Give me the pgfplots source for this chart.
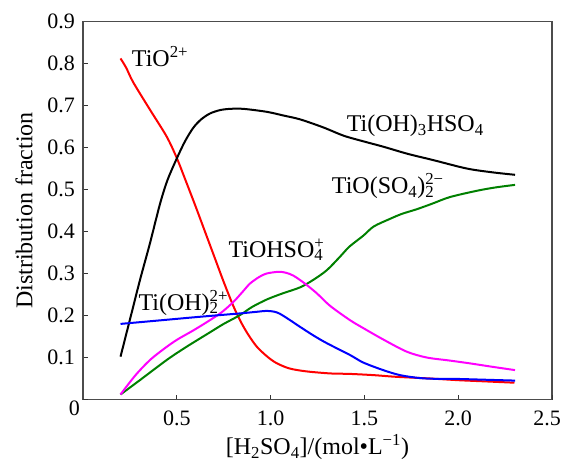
\documentclass[border=0pt]{standalone}
\usepackage{fontspec}
\setmainfont{Liberation Serif}
\usepackage{pgfplots}
\pgfplotsset{compat=1.18}
\newcommand{\subsup}[2]{\setbox0=\hbox{\textsubscript{#1}}\setbox2=\hbox{\textsuperscript{#2}}\ifdim\wd0>\wd2 \rlap{\box2}\box0\else\rlap{\box0}\box2\fi}
\definecolor{mygreen}{RGB}{0,128,0}
\definecolor{mymag}{RGB}{255,0,255}
\definecolor{myred}{RGB}{255,0,0}
\definecolor{myblue}{RGB}{0,0,255}
\begin{document}
\fontsize{24}{28}\selectfont
\begin{tikzpicture}
\begin{axis}[
  scale only axis, width=469pt, height=378pt,
  xmin=0, xmax=2.5, ymin=0, ymax=0.9,
  xtick={0.5,1,1.5,2}, xticklabels={0.5,1.0,1.5,2.0},
  extra x ticks={2.5}, extra x tick labels={2.5},
  extra x tick style={xticklabel style={xshift=-5pt}},
  ytick={0.1,0.2,0.3,0.4,0.5,0.6,0.7,0.8,0.9},
  yticklabels={0.1,0.2,0.3,0.4,0.5,0.6,0.7,0.8,0.9},
  extra y ticks={0}, extra y tick labels={0},
  extra y tick style={yticklabel style={xshift=5pt,yshift=-9pt}},
  tick align=inside, xtick pos=bottom, ytick pos=left,
  major tick length=5pt,
  axis line style={black!70, line width=1.2pt},
  tick style={black!80, line width=1pt},
  ticklabel style={font=\fontsize{22}{26}\selectfont},
  xticklabel style={yshift=-3pt},
  xlabel={[H\textsubscript{2}SO\textsubscript{4}]/(mol\textbullet L\textsuperscript{−1})},
  ylabel={Distribution fraction},
  xlabel style={font=\fontsize{24}{28}\selectfont, at={(axis description cs:0.5,0)}, anchor=base, yshift=-55pt},
  ylabel style={font=\fontsize{24}{28}\selectfont, at={(axis description cs:0,0.5)}, anchor=center, yshift=59pt},
  every axis plot/.append style={line width=2pt, line join=round, smooth, tension=0.5},
]
% TiO2+ (red)
\addplot[myred] coordinates {
(0.20,0.812) (0.23,0.790) (0.268,0.755) (0.357,0.690) (0.446,0.626) (0.50,0.575)
(0.544,0.525) (0.60,0.460) (0.65,0.400) (0.70,0.340) (0.75,0.280) (0.80,0.224)
(0.84,0.186) (0.88,0.155) (0.926,0.126) (0.98,0.103) (1.03,0.087) (1.10,0.074)
(1.19,0.067) (1.32,0.062) (1.42,0.061) (1.55,0.058) (1.67,0.054) (1.85,0.050)
(2.00,0.046) (2.15,0.043) (2.30,0.040)};
% Ti(OH)3HSO4 (black)
\addplot[black] coordinates {
(0.20,0.102) (0.25,0.190) (0.304,0.285) (0.357,0.372) (0.41,0.465) (0.45,0.522)
(0.50,0.574) (0.544,0.615) (0.588,0.647) (0.63,0.667) (0.677,0.681) (0.73,0.689)
(0.784,0.692) (0.855,0.692) (0.979,0.685) (1.07,0.676) (1.157,0.667) (1.28,0.648)
(1.39,0.628) (1.50,0.614) (1.60,0.602) (1.73,0.585) (1.867,0.570) (2.045,0.550)
(2.18,0.541) (2.303,0.535)};
% TiO(SO4)2 2- (green)
\addplot[mygreen] coordinates {
(0.20,0.012) (0.30,0.045) (0.446,0.094) (0.55,0.125) (0.677,0.160) (0.75,0.180)
(0.837,0.201) (0.90,0.220) (0.979,0.238) (1.06,0.252) (1.157,0.267) (1.228,0.285)
(1.30,0.308) (1.37,0.340) (1.42,0.364) (1.494,0.390) (1.55,0.412) (1.636,0.430)
(1.70,0.442) (1.779,0.453) (1.86,0.466) (1.956,0.482) (2.10,0.497) (2.20,0.505)
(2.303,0.511)};
% TiOHSO4+ (magenta)
\addplot[mymag] coordinates {
(0.20,0.012) (0.28,0.058) (0.357,0.094) (0.43,0.120) (0.50,0.142) (0.59,0.165)
(0.677,0.189) (0.74,0.208) (0.801,0.232) (0.85,0.256) (0.89,0.276) (0.94,0.292)
(0.979,0.300) (1.041,0.304) (1.08,0.302) (1.121,0.295) (1.18,0.277) (1.246,0.253)
(1.317,0.223) (1.423,0.189) (1.494,0.170) (1.60,0.143) (1.725,0.114) (1.832,0.100)
(1.95,0.093) (2.063,0.086) (2.18,0.078) (2.303,0.070)};
% Ti(OH)2 2+ (blue)
\addplot[myblue] coordinates {
(0.20,0.180) (0.40,0.188) (0.624,0.197) (0.837,0.205) (0.93,0.209) (0.979,0.211)
(1.02,0.209) (1.05,0.204) (1.10,0.190) (1.157,0.173) (1.23,0.152) (1.30,0.134)
(1.423,0.106) (1.494,0.088) (1.60,0.070) (1.69,0.058) (1.796,0.051) (1.90,0.049)
(1.99,0.049) (2.15,0.047) (2.303,0.045)};
\node[anchor=base west, inner sep=0] at (axis cs:0.26,0.792) {TiO\textsuperscript{2+}};
\node[anchor=base west, inner sep=0] at (axis cs:1.405,0.638) {Ti(OH)\textsubscript{3}HSO\textsubscript{4}};
\node[anchor=base west, inner sep=0] at (axis cs:1.326,0.491) {TiO(SO\textsubscript{4})\subsup{2}{2−}};
\node[anchor=base west, inner sep=0] at (axis cs:0.775,0.339) {TiOHSO\subsup{4}{+}};
\node[anchor=base west, inner sep=0] at (axis cs:0.295,0.213) {Ti(OH)\subsup{2}{2+}};
\end{axis}
\pgfresetboundingbox
\path ([xshift=-83pt,yshift=-63.5pt]current axis.south west) rectangle ([xshift=11pt,yshift=21.5pt]current axis.north east);
\end{tikzpicture}
\end{document}
